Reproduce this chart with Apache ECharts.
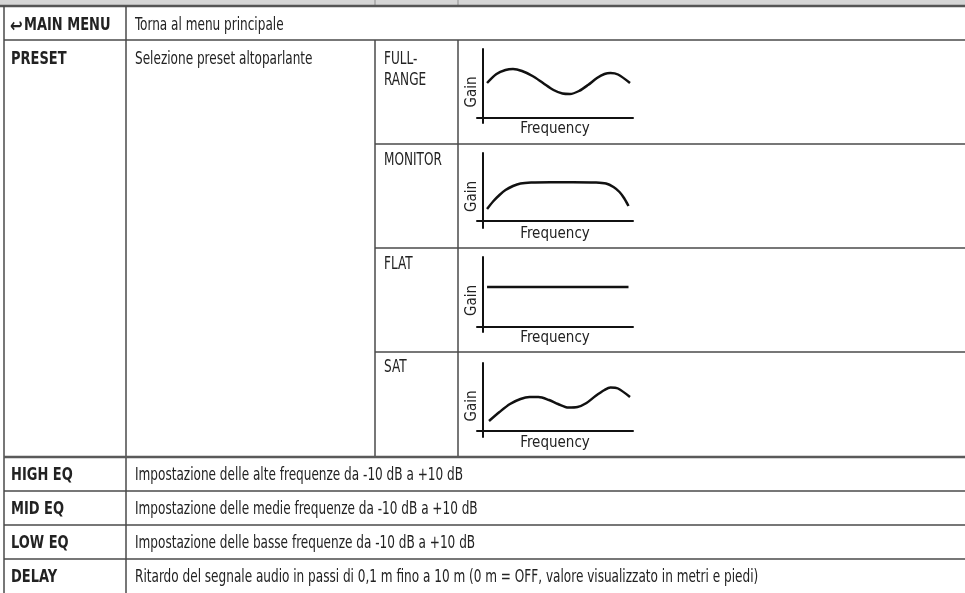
<!DOCTYPE html>
<html>
<head>
<meta charset="utf-8">
<script src="https://cdn.jsdelivr.net/npm/echarts@6/dist/echarts.min.js"></script>
<style>
html,body{margin:0;padding:0;background:#fff;}
#c{width:965px;height:593px;}
</style>
</head>
<body>
<div id="c"></div>
<script>
// ---------- data ----------
const rowLabels = ['MAIN MENU', 'PRESET', 'HIGH EQ', 'MID EQ', 'LOW EQ', 'DELAY'];
const rowDescriptions = [
  'Torna al menu principale',
  'Selezione preset altoparlante',
  'Impostazione delle alte frequenze da -10 dB a +10 dB',
  'Impostazione delle medie frequenze da -10 dB a +10 dB',
  'Impostazione delle basse frequenze da -10 dB a +10 dB',
  'Ritardo del segnale audio in passi di 0,1 m fino a 10 m (0 m = OFF, valore visualizzato in metri e piedi)'
];
const presetNames = ['FULL-\nRANGE', 'MONITOR', 'FLAT', 'SAT'];
const yAxisName = 'Gain';
const xAxisName = 'Frequency';
// curve shapes: [frequency position, gain]
const curveFullRange = [[2.7,35],[9,44],[15,48],[20,49],[26,47],[33,42],[40,35],[47,28],[53,24.5],[58,24],[64,27],[70,33],[76,40],[81,44],[85,45],[90,43.5],[98,35]];
const curveMonitor = [[2.7,12],[7,20],[11,26],[15,31],[20,35],[25,37.5],[32,38.5],[45,38.8],[60,38.8],[75,38.5],[82,37.5],[87,34],[91,29],[94,23],[97,15]];
const curveFlat = [[2.7,40],[50,40],[97,40]];
const curveSat = [[4,10],[11,19],[18,27],[25,32],[31,34],[37,34],[44,31],[50,27],[57,23.5],[63,24],[69,28],[75,35],[81,41],[85,43.5],[90,42.5],[98,34]];
const curves = [curveFullRange, curveMonitor, curveFlat, curveSat];

// ---------- layout ----------
const FONT = "'Liberation Sans Narrow', 'DejaVu Sans Condensed', sans-serif";
const FS = 17;
const TXT = '#222';
const LINE = '#4a4a4a';
const W = 965;
const colX = [4, 126, 375, 458];
const rowTopMain = 6, rowTopPreset = 40, rowTopEq = 457;
const eqRowLines = [491, 525, 559];
const presetRowLines = [144, 248, 352];
const labelY = [26, 60, 476, 510, 544, 578];
const presetY = [60, 161, 265, 368];
// grid boxes of the mini charts: [top, height, yMin]
const gridBoxes = [[49, 74, -5], [153, 75, -7], [257, 75, -5], [363, 74, -6]];

const graphic = [];
function hline(y, x1, x2, w, c) {
  graphic.push({type:'line', shape:{x1:x1, y1:y, x2:x2, y2:y}, style:{stroke:c||LINE, lineWidth:w||1.5}, silent:true});
}
function vline(x, y1, y2, w, c) {
  graphic.push({type:'line', shape:{x1:x, y1:y1, x2:x, y2:y2}, style:{stroke:c||LINE, lineWidth:w||1.5}, silent:true});
}
function text(str, x, y, bold, top) {
  graphic.push({type:'text', silent:true, x:x, y:y, scaleX: bold ? 0.85 : 0.79, style:{
    text:str, x:0, y:0, fill:TXT, fontFamily:FONT, fontSize:FS,
    fontWeight: bold ? 'bold' : 'normal', verticalAlign: top ? 'top' : 'middle', align:'left', lineHeight:21
  }});
}

// top gray band (row above, cut off)
graphic.push({type:'rect', shape:{x:0, y:0, width:W, height:rowTopMain}, style:{fill:'#d6d6d6'}, silent:true});
vline(colX[2], 0, rowTopMain, 1.2, '#9a9a9a');
vline(colX[3], 0, rowTopMain, 1.2, '#9a9a9a');
hline(rowTopMain, 0, W, 2.5, '#555');

// borders
vline(colX[0], rowTopMain, 593, 1.5);
vline(colX[1], rowTopMain, 593, 1.5);
vline(colX[2], rowTopPreset, rowTopEq, 1.5);
vline(colX[3], rowTopPreset, rowTopEq, 1.5);
hline(rowTopPreset, colX[0], W, 1.5);
presetRowLines.forEach(y => hline(y, colX[2], W, 1.5));
hline(rowTopEq, colX[0], W, 2.5, '#5a5a5a');
eqRowLines.forEach(y => hline(y, colX[0], W, 1.5));

// texts
rowLabels.forEach((lab, i) => {
  if (i === 0) {
    graphic.push({type:'text', silent:true, x:10, y:labelY[0] + 1, scaleX:0.8, style:{text:'\u21A9', x:0, y:0, fill:TXT,
      fontFamily:"'DejaVu Sans', sans-serif", fontSize:19, fontWeight:'bold', verticalAlign:'middle', align:'left'}});
    text(lab, 24, labelY[i], true);
  } else {
    text(lab, 11, labelY[i], true);
  }
  text(rowDescriptions[i], 135, labelY[i], false);
});
presetNames.forEach((p, i) => {
  text(p, 384, presetY[i] - 10.5, false, true);
});

// mini charts
const grids = [], xAxes = [], yAxes = [], series = [];
gridBoxes.forEach((b, i) => {
  grids.push({left:477, top:b[0], width:156, height:b[1], containLabel:false});
  xAxes.push({
    type:'value', gridIndex:i, min:-4, max:100,
    name:xAxisName, nameLocation:'middle', nameGap:-1,
    nameTextStyle:{fontFamily:FONT, fontSize:15, color:TXT},
    axisLine:{show:true, onZero:true, lineStyle:{color:'#111', width:2}},
    axisTick:{show:false}, axisLabel:{show:false}, splitLine:{show:false}
  });
  yAxes.push({
    type:'value', gridIndex:i, min:b[2], max:b[2] + b[1],
    name:yAxisName, nameLocation:'middle', nameGap:-3, nameRotate:90,
    nameTextStyle:{fontFamily:FONT, fontSize:15, color:TXT, padding:[0,12,0,0]},
    axisLine:{show:true, onZero:true, lineStyle:{color:'#111', width:2}},
    axisTick:{show:false}, axisLabel:{show:false}, splitLine:{show:false}
  });
  series.push({
    type:'line', xAxisIndex:i, yAxisIndex:i, data:curves[i], smooth:0.3,
    showSymbol:false, symbol:'none', silent:true,
    lineStyle:{color:'#111', width:2.5}, animation:false
  });
});

const chart = echarts.init(document.getElementById('c'), null, {renderer:'canvas'});
chart.setOption({
  animation:false,
  backgroundColor:'#fff',
  textStyle:{fontFamily:FONT},
  grid:grids, xAxis:xAxes, yAxis:yAxes, series:series,
  graphic:graphic
});
</script>
</body>
</html>
